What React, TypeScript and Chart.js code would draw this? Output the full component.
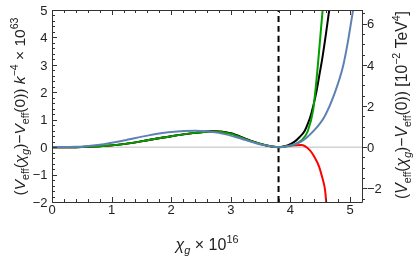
import React, { useEffect, useRef } from "react";
import { Chart, registerables } from "chart.js";
Chart.register(...registerables);

// ---- data (x in units of 10^16, left-axis y in units of 10^63 k^4) ----
const blueX = [0, 0.4, 0.8, 1.2, 1.6, 2.0, 2.4, 2.8, 3.2, 3.5, 3.8, 4.0, 4.18, 4.4, 4.57, 4.74, 4.88, 4.96, 5.05, 5.12];
const blueY = [0, 0.01, 0.09, 0.24, 0.42, 0.55, 0.6, 0.52, 0.29, 0.1, 0, 0.06, 0.2, 0.62, 1.11, 1.96, 2.93, 3.8, 5.0, 6.0];

const greenX = [0, 0.4, 0.8, 1.2, 1.6, 2.0, 2.4, 2.7, 3.0, 3.3, 3.6, 3.8, 3.95, 4.08, 4.18, 4.29, 4.38, 4.43, 4.46, 4.5, 4.54, 4.58];
const greenY = [0, 0, 0.03, 0.11, 0.25, 0.4, 0.52, 0.57, 0.49, 0.24, 0.06, 0, 0.03, 0.1, 0.24, 0.58, 1.35, 2.3, 3.0, 4.0, 5.0, 5.9];

const blackX = [0, 0.4, 0.8, 1.2, 1.6, 2.0, 2.4, 2.7, 3.0, 3.3, 3.6, 3.8, 3.95, 4.07, 4.15, 4.24, 4.3, 4.35, 4.43, 4.49, 4.53, 4.6, 4.65, 4.7];
const blackY = [0, 0, 0.03, 0.11, 0.25, 0.4, 0.52, 0.58, 0.51, 0.26, 0.06, 0, 0.06, 0.2, 0.36, 0.6, 0.9, 1.23, 1.96, 2.69, 3.18, 4.2, 5.0, 5.8];

const redX = [0, 0.4, 0.8, 1.2, 1.6, 2.0, 2.4, 2.7, 3.0, 3.3, 3.6, 3.8, 4.0, 4.18, 4.32, 4.4, 4.48, 4.53, 4.58, 4.6, 4.63];
const redY = [0, 0, 0.03, 0.11, 0.25, 0.4, 0.52, 0.575, 0.5, 0.255, 0.06, 0, 0.06, 0.08, -0.1, -0.35, -0.71, -1.08, -1.56, -2.0, -2.6];

const xTicks = [0, 1, 2, 3, 4, 5];
const yLeftTicks = [-2, -1, 0, 1, 2, 3, 4, 5];
const yRightTicks = [-2, 0, 2, 4, 6];
const xRange = [0, 5.2];
const yRange = [-2, 5];
const dashedX = 3.8;
const rightPerLeft = 4 / 3; // right-axis units per left-axis unit

const FONT = '"Liberation Sans", Arial, Helvetica, sans-serif';

type Run = { t: string; i?: boolean; s?: "sub" | "sup" };

const leftTitle: Run[] = [
  { t: "(" }, { t: "V", i: true }, { t: "eff", s: "sub" }, { t: "(" }, { t: "χ", i: true },
  { t: "g", i: true, s: "sub" }, { t: ")−" }, { t: "V", i: true }, { t: "eff", s: "sub" },
  { t: "(0)) " }, { t: "k", i: true }, { t: "−4", s: "sup" }, { t: " × 10" }, { t: "63", s: "sup" },
];
const rightTitle: Run[] = [
  { t: "(" }, { t: "V", i: true }, { t: "eff", s: "sub" }, { t: "(" }, { t: "χ", i: true },
  { t: "g", i: true, s: "sub" }, { t: ")−" }, { t: "V", i: true }, { t: "eff", s: "sub" },
  { t: "(0)) [10" }, { t: "−2", s: "sup" }, { t: " TeV" }, { t: "4", s: "sup" }, { t: "]" },
];
const xTitle: Run[] = [{ t: "χ", i: true }, { t: "g", i: true, s: "sub" }, { t: " × 10" }, { t: "16", s: "sup" }];

function drawRuns(ctx: CanvasRenderingContext2D, runs: Run[], cx: number, cy: number, size: number, rotate: boolean, targetLen?: number) {
  const fontFor = (r: Run, sz: number) => `${r.i ? "italic " : ""}${r.s ? sz * 0.68 : sz}px ${FONT}`;
  const measure = (sz: number) => {
    let total = 0;
    const ws: number[] = [];
    for (const r of runs) {
      ctx.font = fontFor(r, sz);
      const w = ctx.measureText(r.t).width;
      ws.push(w);
      total += w;
    }
    return { total, ws };
  };
  let sz = size;
  let m = measure(sz);
  if (targetLen) {
    sz = (size * targetLen) / m.total;
    m = measure(sz);
  }
  ctx.save();
  ctx.translate(cx, cy);
  if (rotate) ctx.rotate(-Math.PI / 2);
  ctx.textAlign = "left";
  ctx.textBaseline = "alphabetic";
  let x = -m.total / 2;
  runs.forEach((r, k) => {
    ctx.font = fontFor(r, sz);
    const dy = r.s === "sub" ? sz * 0.28 : r.s === "sup" ? -sz * 0.42 : 0;
    ctx.fillText(r.t, x, dy);
    x += m.ws[k];
  });
  ctx.restore();
}

const fmt = (v: number) => (v < 0 ? "−" + Math.abs(v) : String(v));

const framePlugin = {
  id: "frame",
  afterDraw(chart: any) {
    const { ctx, chartArea: a, scales } = chart;
    const xs = scales.x;
    const ys = scales.y;
    ctx.save();
    ctx.strokeStyle = "#333";
    ctx.lineWidth = 1;
    ctx.beginPath();
    ctx.rect(Math.round(a.left) + 0.5, Math.round(a.top) + 0.5, Math.round(a.right - a.left), Math.round(a.bottom - a.top));
    ctx.stroke();

    ctx.beginPath();
    // x ticks bottom + top (inward)
    for (let k = 0; k <= 26; k++) {
      const v = k * 0.2;
      const px = Math.round(xs.getPixelForValue(v)) + 0.5;
      const major = k % 5 === 0;
      const len = major ? 5 : 3;
      ctx.moveTo(px, a.bottom);
      ctx.lineTo(px, a.bottom - len);
      ctx.moveTo(px, a.top);
      ctx.lineTo(px, a.top + len);
    }
    // left ticks (inward)
    for (let k = -10; k <= 25; k++) {
      const v = k * 0.2;
      const py = Math.round(ys.getPixelForValue(v)) + 0.5;
      const major = k % 5 === 0;
      const len = major ? 5 : 3;
      ctx.moveTo(a.left, py);
      ctx.lineTo(a.left + len, py);
    }
    // right ticks (outward)
    for (let k = -5; k <= 13; k++) {
      const v = k * 0.5;
      const py = Math.round(ys.getPixelForValue(v / rightPerLeft)) + 0.5;
      const major = k % 4 === 0;
      const len = major ? 5 : 3;
      ctx.moveTo(a.right, py);
      ctx.lineTo(a.right + len, py);
    }
    ctx.stroke();

    // tick labels
    ctx.fillStyle = "#222";
    ctx.font = `13px ${FONT}`;
    ctx.textBaseline = "alphabetic";
    ctx.textAlign = "center";
    for (const v of xTicks) {
      ctx.fillText(fmt(v), xs.getPixelForValue(v), a.bottom + 11.5);
    }
    ctx.textAlign = "right";
    for (const v of yLeftTicks) {
      ctx.fillText(fmt(v), a.left - 4.5, ys.getPixelForValue(v) + 4.7);
    }
    ctx.textAlign = "left";
    for (const v of yRightTicks) {
      ctx.fillText(fmt(v), a.right + 5, ys.getPixelForValue(v / rightPerLeft) + 4.7);
    }

    // titles
    const midY = (a.top + a.bottom) / 2;
    drawRuns(ctx, leftTitle, 25, midY + 0.5, 13, true, 178);
    drawRuns(ctx, rightTitle, 406.5, midY - 1, 13, true, 188);
    drawRuns(ctx, xTitle, (a.left + a.right) / 2, 250, 14, false, 63);
    ctx.restore();
  },
};

const pts = (xs: number[], ys: number[]) => xs.map((x, i) => ({ x, y: ys[i] }));

export default function App() {
  const ref = useRef<HTMLCanvasElement | null>(null);
  useEffect(() => {
    if (!ref.current) return;
    const line = (label: string, data: any[], color: string, width = 2) => ({
      label,
      data,
      borderColor: color,
      backgroundColor: color,
      borderWidth: width,
      pointRadius: 0,
      fill: false,
      cubicInterpolationMode: "monotone" as const,
    });
    const chart = new Chart(ref.current, {
      type: "line",
      data: {
        datasets: [
          line("blue", pts(blueX, blueY), "rgb(94,129,181)"),
          line("green", pts(greenX, greenY), "rgb(0,160,0)"),
          line("black", pts(blackX, blackY), "#000"),
          line("red", pts(redX, redY), "rgb(255,0,0)"),
          {
            ...line("dashed", [{ x: dashedX, y: yRange[0] }, { x: dashedX, y: yRange[1] }], "#000", 2),
            borderDash: [6, 4],
          },
          line("zero", [{ x: xRange[0], y: 0 }, { x: xRange[1], y: 0 }], "#bbb", 1),
        ],
      },
      options: {
        responsive: false,
        animation: false,
        events: [],
        layout: { padding: { left: 52, right: 53, top: 10, bottom: 54 } },
        plugins: { legend: { display: false }, tooltip: { enabled: false } },
        scales: {
          x: { type: "linear", min: xRange[0], max: xRange[1], display: false },
          y: { type: "linear", min: yRange[0], max: yRange[1], display: false },
        },
      },
      plugins: [framePlugin],
    });
    return () => chart.destroy();
  }, []);
  return (
    <div style={{ position: "fixed", left: 0, top: 0, width: 415, height: 256, background: "#fff" }}>
      <canvas ref={ref} width={415} height={256} />
    </div>
  );
}
